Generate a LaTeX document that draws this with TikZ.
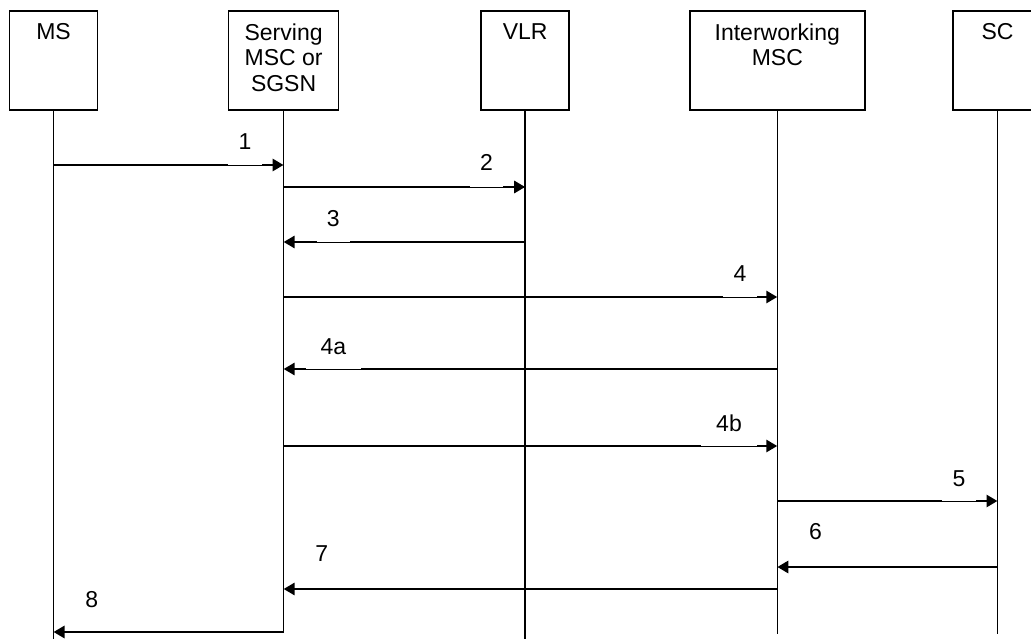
\documentclass[tikz,border=0pt]{standalone}
\usepackage{fontspec}
\setmainfont{Liberation Sans}
\usetikzlibrary{arrows.meta}
\begin{document}
\begin{tikzpicture}[x=1pt,y=-1pt,
  every node/.style={font=\fontsize{23}{25.6}\selectfont},
  actor/.style={draw, line width=1.5pt, minimum height=99pt, inner sep=0pt},
  atext/.style={anchor=north, inner sep=0pt, align=center, yshift=-13pt},
  life/.style={line width=1.5pt},
  msg/.style={line width=2.8pt, -{Triangle[length=11pt,width=12pt]}},
  lbl/.style 2 args={fill=white, inner sep=0pt, minimum width=#1, minimum height=#2},
  plbl/.style={inner sep=0pt}]
\clip (0,0) rectangle (1031,639);
% actors
\node[actor, minimum width=88pt]  (ms)  at (53.5,60.5) {};
\node[actor, minimum width=110pt] (srv) at (283.6,60.5) {};
\node[actor, minimum width=88pt]  (vlr) at (525.2,60.5) {};
\node[actor, minimum width=175pt] (iw)  at (777.3,60.5) {};
\node[actor, minimum width=89pt]  (sc)  at (997.5,60.5) {};
\node[atext] (mst)  at (ms.north)  {MS};
\node[atext] (srvt) at (srv.north) {Serving\\MSC or\\SGSN};
\node[atext] (vlrt) at (vlr.north) {VLR};
\node[atext] (iwt)  at (iw.north)  {Interworking\\MSC};
\node[atext] (sct)  at (sc.north)  {SC};
% levels
\coordinate (y1) at (0,165);
\coordinate (y2) at (0,187);
\coordinate (y3) at (0,242);
\coordinate (y4) at (0,297);
\coordinate (y4a) at (0,369);
\coordinate (y4b) at (0,446);
\coordinate (y5) at (0,501);
\coordinate (y6) at (0,567);
\coordinate (y7) at (0,589);
\coordinate (y8) at (0,632);
\coordinate (ybot) at (0,640);
\coordinate (yend) at (0,634);
% lifelines
\draw[life] (ms.south) -- (ms.south |- ybot);
\draw[life] (srv.south) -- (srv.south |- y8);
\draw[life] (vlr.south) -- (vlr.south |- ybot);
\draw[life] (iw.south) -- (iw.south |- yend);
\draw[life] (sc.south) -- (sc.south |- yend);
% messages
\draw[msg] (ms.south |- y1) -- (srv.south |- y1);
\draw[msg] (srv.south |- y2) -- (vlr.south |- y2);
\draw[msg] (vlr.south |- y3) -- (srv.south |- y3);
\draw[msg] (srv.south |- y4) -- (iw.south |- y4);
\draw[msg] (iw.south |- y4a) -- (srv.south |- y4a);
\draw[msg] (srv.south |- y4b) -- (iw.south |- y4b);
\draw[msg] (iw.south |- y5) -- (sc.south |- y5);
\draw[msg] (sc.south |- y6) -- (iw.south |- y6);
\draw[msg] (iw.south |- y7) -- (srv.south |- y7);
\draw[msg] (srv.south |- y8) -- (ms.south |- y8);
% labels
\node[lbl={33.7pt}{46.6pt}] (l1)  at (244.9,141.7) {1};
\node[lbl={33pt}{48.6pt}]   (l2)  at (486.5,162.7) {2};
\node[lbl={33.3pt}{47.4pt}] (l3)  at (333.3,218.3) {3};
\node[lbl={34pt}{47.4pt}]   (l4)  at (740,273.3)   {4};
\node[lbl={55.5pt}{44.6pt}] (l4a) at (333.3,346.7) {4a};
\node[lbl={56pt}{45.4pt}]   (l4b) at (729,423.3)   {4b};
\node[lbl={34pt}{45.4pt}]   (l5)  at (959,478.3)   {5};
\node[plbl] (l6) at (815.6,531.7) {6};
\node[plbl] (l7) at (321.7,553.3) {7};
\node[plbl] (l8) at (91.7,599.3)  {8};
\end{tikzpicture}
\end{document}
